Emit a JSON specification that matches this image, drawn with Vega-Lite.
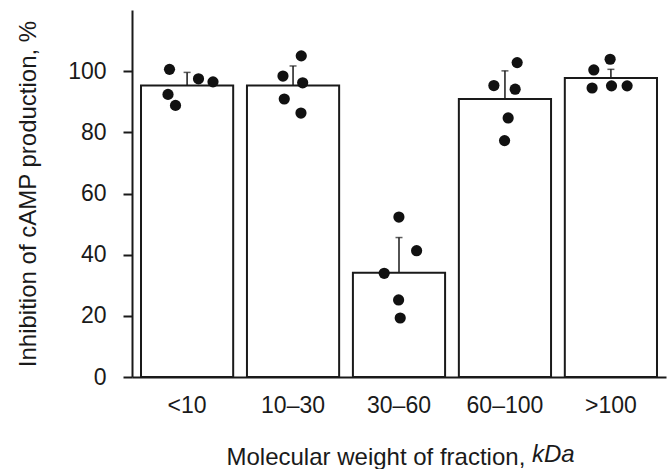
{
  "$schema": "https://vega.github.io/schema/vega-lite/v6.json",
  "autosize": "none",
  "width": 534,
  "height": 367,
  "padding": {"left": 132, "top": 10, "right": 4, "bottom": 92},
  "background": "white",
  "title": {"text": "kDa", "orient": "bottom", "anchor": "start", "frame": "group", "font": "Liberation Sans", "fontSize": 24, "fontStyle": "italic", "fontWeight": "normal", "color": "#1a1a1a", "dx": 400, "dy": -30},
  "config": {
    "view": {"stroke": null},
    "font": "Liberation Sans",
    "axis": {"labelFont": "Liberation Sans", "titleFont": "Liberation Sans", "labelColor": "#1a1a1a", "titleColor": "#1a1a1a", "domainColor": "#1a1a1a", "tickColor": "#1a1a1a", "grid": false, "titleFontWeight": "normal", "labelFontSize": 23, "titleFontSize": 24, "domainWidth": 2, "tickWidth": 2}
  },
  "datasets": {
    "bars": [
      {"fraction": "<10", "mean": 95.3, "upper": 99.6},
      {"fraction": "10–30", "mean": 95.3, "upper": 101.7},
      {"fraction": "30–60", "mean": 34.1, "upper": 45.6},
      {"fraction": "60–100", "mean": 90.9, "upper": 100.1},
      {"fraction": ">100", "mean": 97.8, "upper": 100.6}
    ],
    "points": [
      {"fraction": "<10", "value": 100.6, "shift": -17.5},
      {"fraction": "<10", "value": 97.5, "shift": 11.5},
      {"fraction": "<10", "value": 96.5, "shift": 26},
      {"fraction": "<10", "value": 92.4, "shift": -19},
      {"fraction": "<10", "value": 88.8, "shift": -11.5},
      {"fraction": "10–30", "value": 105.0, "shift": 8.3},
      {"fraction": "10–30", "value": 98.4, "shift": -10},
      {"fraction": "10–30", "value": 96.2, "shift": 9.7},
      {"fraction": "10–30", "value": 90.9, "shift": -8.7},
      {"fraction": "10–30", "value": 86.3, "shift": 8},
      {"fraction": "30–60", "value": 52.3, "shift": 0},
      {"fraction": "30–60", "value": 41.3, "shift": 17.7},
      {"fraction": "30–60", "value": 33.9, "shift": -14.7},
      {"fraction": "30–60", "value": 25.2, "shift": -0.3},
      {"fraction": "30–60", "value": 19.3, "shift": 1.3},
      {"fraction": "60–100", "value": 102.8, "shift": 12.3},
      {"fraction": "60–100", "value": 95.3, "shift": -11},
      {"fraction": "60–100", "value": 94.1, "shift": 10.3},
      {"fraction": "60–100", "value": 84.7, "shift": 3.3},
      {"fraction": "60–100", "value": 77.3, "shift": -0.3},
      {"fraction": ">100", "value": 103.9, "shift": -0.7},
      {"fraction": ">100", "value": 100.4, "shift": -17},
      {"fraction": ">100", "value": 94.5, "shift": -18.7},
      {"fraction": ">100", "value": 95.2, "shift": 0.7},
      {"fraction": ">100", "value": 95.2, "shift": 16.3}
    ]
  },
  "resolve": {"scale": {"xOffset": "independent"}},
  "encoding": {
    "x": {
      "field": "fraction", "type": "nominal", "sort": null,
      "scale": {"domain": ["<10", "10–30", "30–60", "60–100", ">100"], "paddingInner": 0.13, "paddingOuter": 0.085},
      "axis": {"title": "Molecular weight of fraction,", "titleX": 94, "titleAlign": "left", "labelAngle": 0, "ticks": false, "labelPadding": 17, "titlePadding": 28}
    }
  },
  "layer": [
    {
      "data": {"name": "bars"},
      "mark": {"type": "tick", "color": "#1a1a1a", "size": 7, "thickness": 1.5},
      "encoding": {
        "y": {"field": "upper", "type": "quantitative"}
      }
    },
    {
      "data": {"name": "bars"},
      "mark": {"type": "bar", "fill": "white", "stroke": "#1a1a1a", "strokeWidth": 2},
      "encoding": {
        "y": {
          "field": "mean", "type": "quantitative",
          "scale": {"domain": [0, 120], "nice": false},
          "axis": {
            "title": "Inhibition of cAMP production, %",
            "values": [0, 10, 20, 30, 40, 50, 60, 70, 80, 90, 100, 110],
            "labelExpr": "datum.value % 20 === 0 ? datum.label : ''",
            "tickSize": {"condition": {"test": "datum.value % 20 === 0", "value": 9}, "value": 5},
            "labelPadding": 17, "titlePadding": 27
          }
        }
      }
    },
    {
      "data": {"name": "bars"},
      "mark": {"type": "rule", "color": "#1a1a1a", "strokeWidth": 1.5},
      "encoding": {
        "y": {"field": "mean", "type": "quantitative"},
        "y2": {"field": "upper"}
      }
    },
    {
      "data": {"name": "points"},
      "mark": {"type": "circle", "color": "#111", "opacity": 1, "size": 125},
      "encoding": {
        "y": {"field": "value", "type": "quantitative"},
        "xOffset": {"field": "shift", "type": "quantitative", "scale": {"domain": [-50, 50], "range": [-4, 96]}}
      }
    }
  ]
}
